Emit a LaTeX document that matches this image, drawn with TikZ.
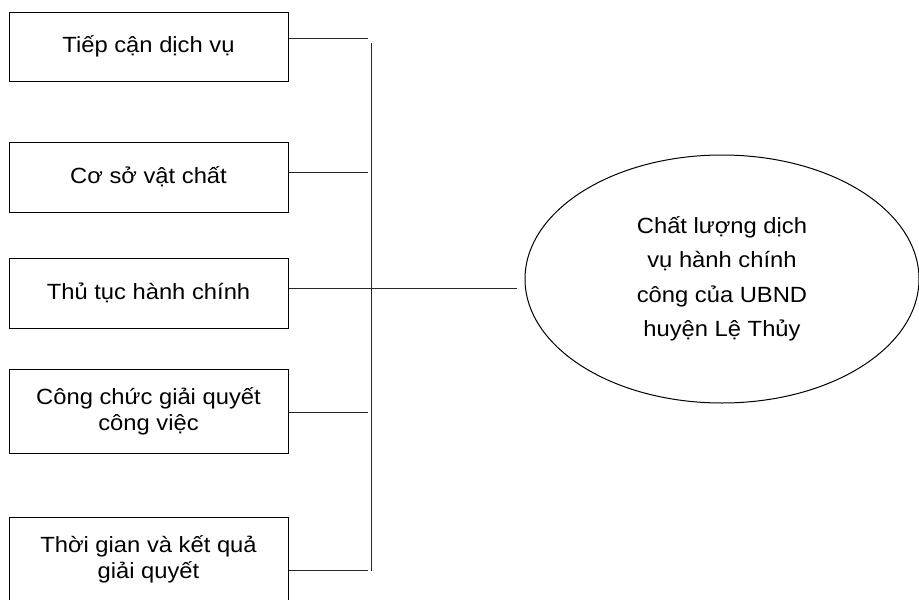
\documentclass[tikz,border=0pt]{standalone}
\usepackage{fontspec}
\setmainfont[FakeStretch=1.08]{Liberation Sans}
\usetikzlibrary{shapes.geometric}
\begin{document}
\begin{tikzpicture}[x=1pt,y=-1pt,
  factor/.style={draw=black,line width=1pt,minimum width=279pt,inner sep=0pt,
    align=center,font=\fontsize{22}{26}\selectfont},
  goal/.style={draw=black,line width=1pt,ellipse,minimum width=394pt,minimum height=248pt,
    inner sep=0pt,align=center,font=\fontsize{22}{34.5}\selectfont},
  link/.style={draw=black!85,line width=1pt}]
\useasboundingbox (0,0) rectangle (919,600);
\clip (0,0) rectangle (919,600);

% factor boxes on the left
\node[factor,minimum height=69pt] (b1) at (148.5,46.5) {Tiếp cận dịch vụ};
\node[factor,minimum height=70pt] (b2) at (148.5,177) {Cơ sở vật chất};
\node[factor,minimum height=70pt] (b3) at (148.5,293) {Thủ tục hành chính};
\node[factor,minimum height=84pt] (b4) at (148.5,411) {Công chức giải quyết\\công việc};
\node[factor,minimum height=84pt] (b5) at (148.5,559) {Thời gian và kết quả\\giải quyết};

% outcome ellipse
\node[goal] (g) at (722,279) {Chất lượng dịch\\vụ hành chính\\công của UBND\\huyện Lệ Thủy};

% bus line and its ends
\coordinate (top) at (371,43);
\coordinate (bot) at (371,571);
\coordinate (e1) at (368,38);
\coordinate (e2) at (368,172);
\coordinate (e4) at (368,412);
\coordinate (e5) at (368,570);
\coordinate (e3) at (517,288);

\draw[link] (top) -- (bot);
\draw[link] (b1.east |- e1) -- (e1);
\draw[link] (b2.east |- e2) -- (e2);
\draw[link] (b3.east |- e3) -- (e3);
\draw[link] (b4.east |- e4) -- (e4);
\draw[link] (b5.east |- e5) -- (e5);
\end{tikzpicture}
\end{document}
